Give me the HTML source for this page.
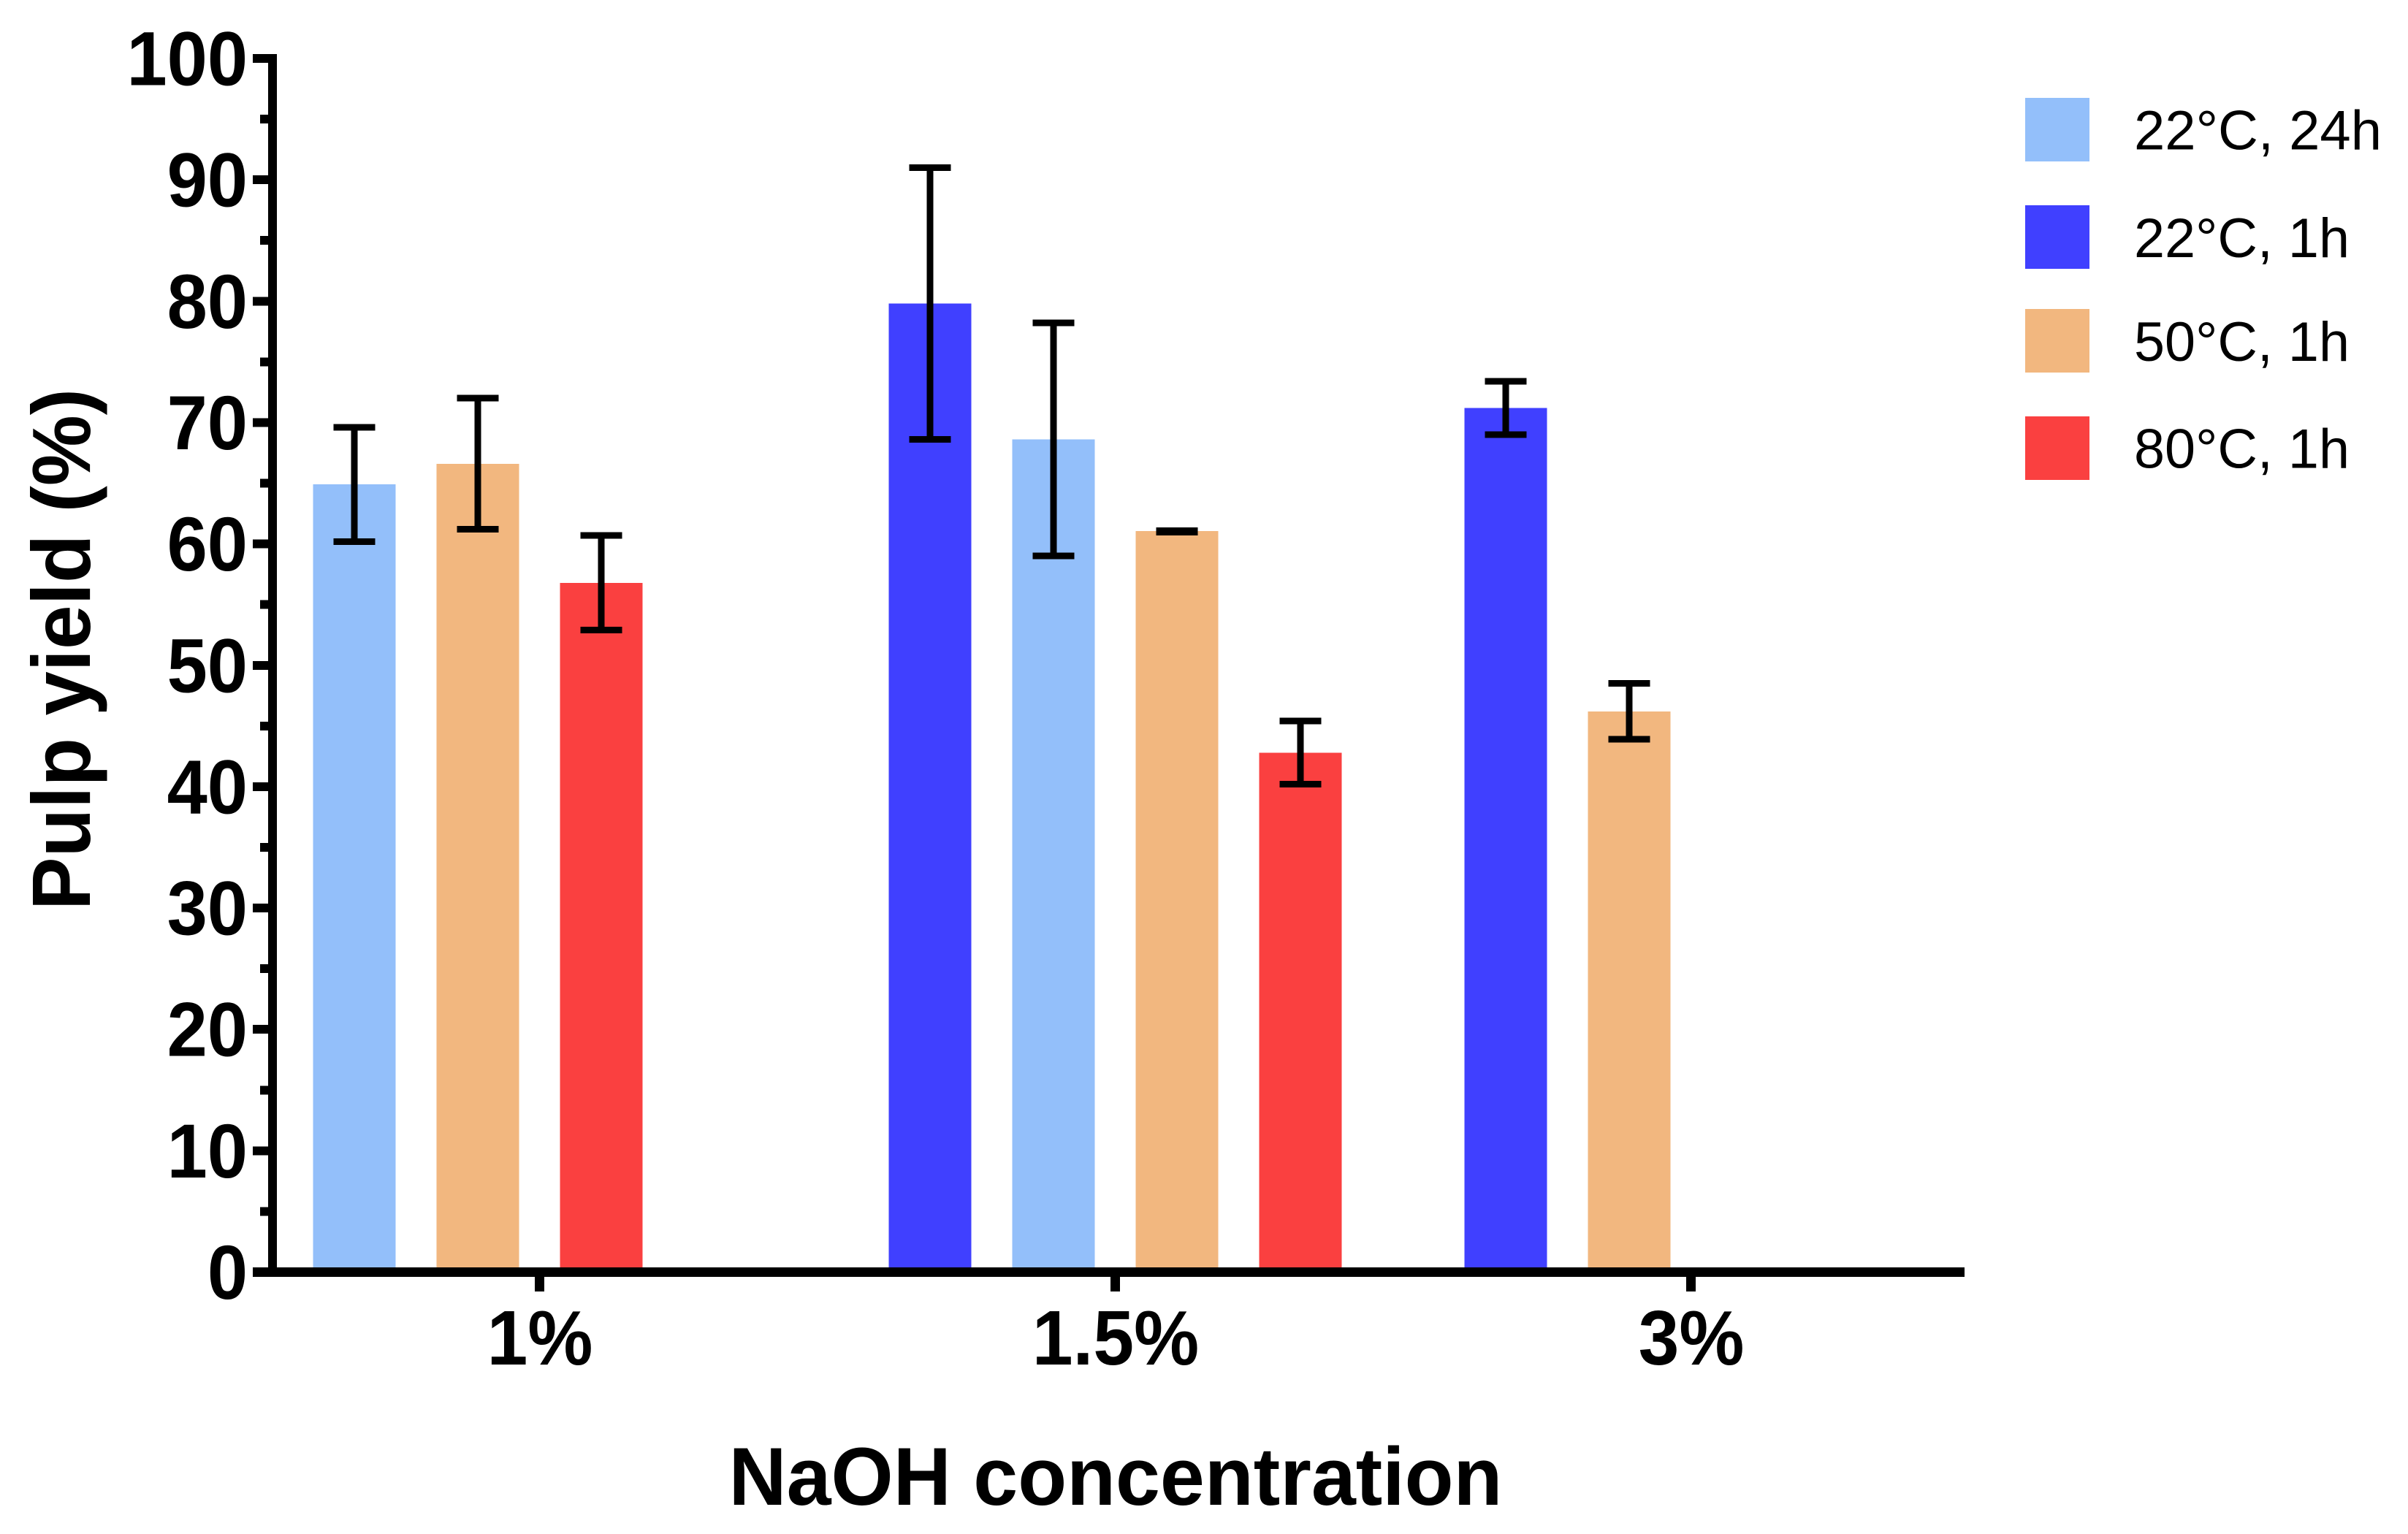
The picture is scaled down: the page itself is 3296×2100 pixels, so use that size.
<!DOCTYPE html>
<html>
<head>
<meta charset="utf-8">
<title>Pulp yield vs NaOH concentration</title>
<style>
html,body{margin:0;padding:0;background:#fff;}
svg{display:block;font-family:"Liberation Sans",Arial,sans-serif;}
rect{shape-rendering:crispEdges;}
</style>
</head>
<body>
<svg id="chart" xmlns="http://www.w3.org/2000/svg" width="3296" height="2100" viewBox="0 0 3296 2100">
  <rect x="0" y="0" width="3296" height="2100" fill="#ffffff"/>
  <g id="bars"></g>
  <g id="errors"></g>
  <g id="axes"></g>
  <text transform="translate(123,1246) rotate(-90)" font-size="113" font-weight="700" textLength="714" lengthAdjust="spacingAndGlyphs">Pulp yield (%)</text>
  <text transform="translate(1527,2060) scale(0.978,1)" text-anchor="middle" font-size="112" font-weight="700">NaOH concentration</text>
  <g>
    <g>
      <rect x="2772" y="134" width="88" height="87" fill="#93BFFA"/>
      <text x="2921" y="204.5" font-size="76" textLength="339" lengthAdjust="spacingAndGlyphs">22°C, 24h</text>
    </g>
    <g>
      <rect x="2772" y="281" width="88" height="87" fill="#4040FF"/>
      <text x="2921" y="352" font-size="76" textLength="295" lengthAdjust="spacingAndGlyphs">22°C, 1h</text>
    </g>
    <g>
      <rect x="2772" y="423" width="88" height="87" fill="#F2B77F"/>
      <text x="2921" y="494" font-size="76" textLength="295" lengthAdjust="spacingAndGlyphs">50°C, 1h</text>
    </g>
    <g>
      <rect x="2772" y="570" width="88" height="87" fill="#FA4040"/>
      <text x="2921" y="640.5" font-size="76" textLength="295" lengthAdjust="spacingAndGlyphs">80°C, 1h</text>
    </g>
  </g>
</svg>
<script>
const categories = ['1%', '1.5%', '3%'];
const seriesKeys = ['22c-24h', '22c-1h', '50c-1h', '80c-1h'];
const seriesColors = ['#93BFFA', '#4040FF', '#F2B77F', '#FA4040'];
const groupSeries = [[0, 2, 3], [1, 0, 2, 3], [1, 2]];
const groupMeans = [[64.9, 66.6, 56.8], [79.8, 68.6, 61.05, 42.8], [71.2, 46.2]];
const groupErrHigh = [[69.6, 72.0, 60.7], [91.0, 78.2, 61.1, 45.4], [73.4, 48.5]];
const groupErrLow = [[60.2, 61.2, 52.9], [68.6, 59.0, 60.98, 40.2], [69.0, 43.9]];
const yTickLabels = ['0', '10', '20', '30', '40', '50', '60', '70', '80', '90', '100'];
const yMinorTicks = [5, 15, 25, 35, 45, 55, 65, 75, 85, 95];

const SVG_NS = 'http://www.w3.org/2000/svg';
const barsLayer = document.getElementById('bars');
const errorsLayer = document.getElementById('errors');
const axesLayer = document.getElementById('axes');

function yScale(v) { return 1741.5 + (80 - 1741.5) * (v / 100); }
function xCenter(groupIndex) { return 738.5 + 788 * groupIndex; }
function xSlot(groupIndex, slotIndex) { return xCenter(groupIndex) + (slotIndex - 1.5) * 169; }

const BAR_W = 113;
const CAP_W = 57;
const ERR_T = 9;

function makeRect(x, y, w, h, fill) {
  const r = document.createElementNS(SVG_NS, 'rect');
  r.setAttribute('x', x);
  r.setAttribute('y', y);
  r.setAttribute('width', w);
  r.setAttribute('height', h);
  r.setAttribute('fill', fill);
  return r;
}

function makeText(x, y, size, anchor, content) {
  const t = document.createElementNS(SVG_NS, 'text');
  t.setAttribute('transform', 'translate(' + x + ',' + y + ') scale(0.945,1)');
  t.setAttribute('font-size', size);
  t.setAttribute('font-weight', '700');
  t.setAttribute('text-anchor', anchor);
  t.textContent = content;
  return t;
}

groupSeries.forEach(function (members, g) {
  members.forEach(function (seriesIndex, s) {
    const cx = xSlot(g, s);
    const key = categories[g] + '-' + seriesKeys[seriesIndex];
    const top = yScale(groupMeans[g][s]);
    const bar = makeRect(cx - BAR_W / 2, top, BAR_W, yScale(0) - top, seriesColors[seriesIndex]);
    
    
    barsLayer.appendChild(bar);

    const hi = yScale(groupErrHigh[g][s]);
    const lo = yScale(groupErrLow[g][s]);
    const stem = makeRect(cx - ERR_T / 2, hi, ERR_T, lo - hi, '#000');
    
    
    errorsLayer.appendChild(stem);

    const capHigh = makeRect(cx - CAP_W / 2, hi - ERR_T / 2, CAP_W, ERR_T, '#000');
    
    
    errorsLayer.appendChild(capHigh);

    const capLow = makeRect(cx - CAP_W / 2, lo - ERR_T / 2, CAP_W, ERR_T, '#000');
    
    
    errorsLayer.appendChild(capLow);
  });
});

const yAxisLine = makeRect(367, 74, 12, 1674, '#000');


axesLayer.appendChild(yAxisLine);

const xAxisLine = makeRect(346, 1735, 2343, 13, '#000');


axesLayer.appendChild(xAxisLine);

yTickLabels.forEach(function (label) {
  const v = Number(label);
  const tick = makeRect(346, yScale(v) - 6, 21, 12, '#000');
  
  
  axesLayer.appendChild(tick);

  const text = makeText(339, yScale(v) + 36.5, 105, 'end', label);
  
  
  axesLayer.appendChild(text);
});

yMinorTicks.forEach(function (v) {
  const minor = makeRect(356, yScale(v) - 6, 11, 12, '#000');
  
  
  axesLayer.appendChild(minor);
});

categories.forEach(function (label, g) {
  const tick = makeRect(xCenter(g) - 6.5, 1748, 13, 20, '#000');
  
  
  axesLayer.appendChild(tick);

  const text = makeText(xCenter(g) + 0.5, 1868, 106, 'middle', label);
  
  
  axesLayer.appendChild(text);
});
</script>
</body>
</html>
